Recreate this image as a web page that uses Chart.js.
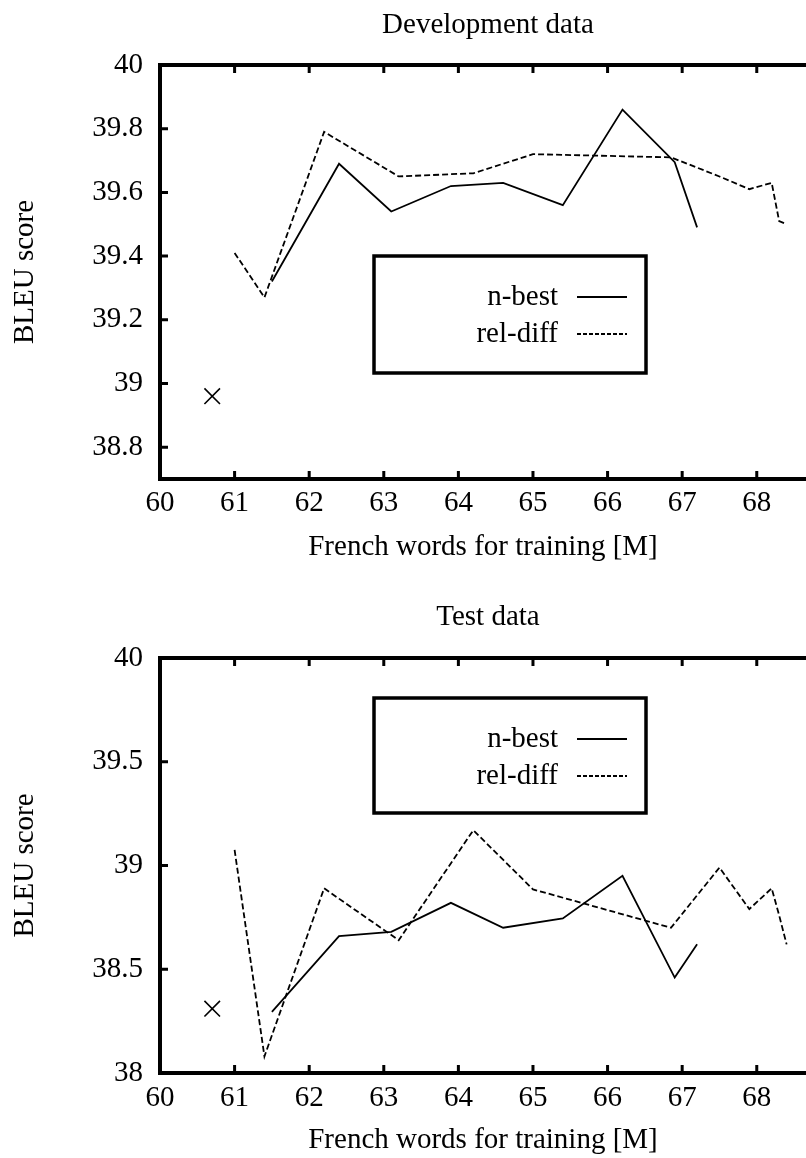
<!DOCTYPE html>
<html>
<head>
<meta charset="utf-8">
<script src="https://cdn.jsdelivr.net/npm/chart.js@4.4.0/dist/chart.umd.min.js"></script>
<style>
  html, body { margin: 0; padding: 0; background: #fff; overflow: hidden; }
  .wrap { position: relative; width: 806px; height: 1158px; overflow: hidden; }
  canvas { display: block; }
</style>
</head>
<body>
<div class="wrap">
  <canvas id="dev" width="806" height="580"></canvas>
  <canvas id="test" width="806" height="578"></canvas>
</div>
<script>
// x ticks (French words, millions)
const xTicks = [60, 61, 62, 63, 64, 65, 66, 67, 68];
const devYTicks = [38.8, 39, 39.2, 39.4, 39.6, 39.8, 40];
const testYTicks = [38, 38.5, 39, 39.5, 40];

// x positions of the systems
const nbestX = [61.5, 62.4, 63.1, 63.9, 64.6, 65.4, 66.2, 66.9, 67.2];
const relX = [61.0, 61.4, 62.2, 63.2, 64.2, 65.0, 66.85, 67.5, 67.9, 68.2, 68.3, 68.4];
const baseX = 60.7;

// Development data
const devNbest = [39.32, 39.69, 39.54, 39.62, 39.63, 39.56, 39.86, 39.695, 39.49];
const devRel = [39.41, 39.27, 39.79, 39.65, 39.66, 39.72, 39.71, 39.65, 39.61, 39.63, 39.51, 39.50];
const devBase = 38.96;

// Test data
const testNbest = [38.295, 38.66, 38.68, 38.82, 38.70, 38.745, 38.95, 38.46, 38.62];
const testRel = [39.075, 38.08, 38.89, 38.64, 39.17, 38.885, 38.70, 38.99, 38.79, 38.89, 38.76, 38.62];
const testBase = 38.31;

const seriesNames = ['n-best', 'rel-diff'];

const FONT = '"Liberation Serif", "Times New Roman", serif';
Chart.defaults.font.family = FONT;
Chart.defaults.font.size = 29;
Chart.defaults.color = '#000';

// gnuplot-like frame (right side is cut off by the page), inward ticks, title, boxed legend
const framePlugin = {
  id: 'frame',
  afterDraw(chart, args, opts) {
    const { ctx, chartArea: a, scales } = chart;
    ctx.save();
    ctx.strokeStyle = '#000';
    ctx.fillStyle = '#000';
    ctx.lineWidth = 3;
    ctx.beginPath();
    scales.x.ticks.forEach(t => {
      const px = scales.x.getPixelForValue(t.value);
      ctx.moveTo(px, a.bottom); ctx.lineTo(px, a.bottom - 8);
      ctx.moveTo(px, a.top); ctx.lineTo(px, a.top + 8);
    });
    scales.y.ticks.forEach(t => {
      const py = scales.y.getPixelForValue(t.value);
      ctx.moveTo(a.left, py); ctx.lineTo(a.left + 8, py);
    });
    ctx.stroke();
    ctx.lineWidth = 4;
    ctx.beginPath();
    ctx.moveTo(a.right + 4, a.top);
    ctx.lineTo(a.left, a.top);
    ctx.lineTo(a.left, a.bottom);
    ctx.lineTo(a.right + 4, a.bottom);
    ctx.stroke();

    // title, centred on the full (uncut) plot width
    ctx.font = '29px ' + FONT;
    ctx.textAlign = 'center';
    ctx.textBaseline = 'middle';
    ctx.fillText(opts.title, a.left + 328, opts.titleY);

    // legend box
    const bx = a.left + 214, by = a.top + opts.legendTop;
    ctx.lineWidth = 3.5;
    ctx.strokeRect(bx, by, 272, opts.legendH);
    ctx.textAlign = 'right';
    const rows = [by + 41, by + 78];
    ctx.fillText(seriesNames[0], bx + 184, rows[0]);
    ctx.fillText(seriesNames[1], bx + 184, rows[1]);
    ctx.lineWidth = 1.8;
    ctx.beginPath();
    ctx.moveTo(bx + 203, rows[0]); ctx.lineTo(bx + 253, rows[0]);
    ctx.stroke();
    ctx.setLineDash([4, 2]);
    ctx.beginPath();
    ctx.moveTo(bx + 203, rows[1]); ctx.lineTo(bx + 253, rows[1]);
    ctx.stroke();
    ctx.restore();
  }
};

function makeChart(id, cfg) {
  const ctx = document.getElementById(id).getContext('2d');
  return new Chart(ctx, {
    type: 'line',
    data: {
      datasets: [
        {
          label: seriesNames[0],
          data: nbestX.map((x, i) => ({ x, y: cfg.nbest[i] })),
          borderColor: '#000', borderWidth: 1.8, pointRadius: 0, tension: 0, fill: false
        },
        {
          label: seriesNames[1],
          data: relX.map((x, i) => ({ x, y: cfg.rel[i] })),
          borderColor: '#000', borderWidth: 1.8, borderDash: [6, 3], pointRadius: 0, tension: 0, fill: false
        },
        {
          type: 'scatter',
          label: 'baseline',
          data: [{ x: baseX, y: cfg.base }],
          pointStyle: 'crossRot', pointRadius: 11, borderColor: '#000', borderWidth: 1.6, showLine: false
        }
      ]
    },
    options: {
      responsive: false,
      animation: false,
      layout: { autoPadding: false, padding: { top: cfg.padTop, left: 0, right: 0, bottom: 0 } },
      plugins: {
        legend: { display: false },
        tooltip: { enabled: false },
        frame: { title: cfg.title, titleY: cfg.titleY, legendTop: cfg.legendTop, legendH: cfg.legendH }
      },
      scales: {
        x: {
          type: 'linear',
          min: 60,
          max: 68.66,
          grid: { display: false, drawTicks: false },
          border: { display: false },
          ticks: { padding: cfg.xTickPad, callback: v => String(v) },
          afterBuildTicks: s => { s.ticks = xTicks.map(v => ({ value: v })); },
          afterFit: s => { s.height = cfg.xHeight; s.paddingLeft = 0; s.paddingRight = 0; },
          title: { display: true, text: 'French words for training [M]', padding: { top: 0, bottom: cfg.xTitlePad } }
        },
        y: {
          min: cfg.yMin,
          max: 40,
          grid: { display: false, drawTicks: false },
          border: { display: false },
          ticks: { padding: 17, callback: v => String(+Number(v).toFixed(2)) },
          afterBuildTicks: s => { s.ticks = cfg.yTicks.map(v => ({ value: v })); },
          afterFit: s => { s.width = 160; },
          title: { display: true, text: 'BLEU score', padding: { top: 8, bottom: 0 } }
        }
      }
    },
    plugins: [framePlugin]
  });
}

makeChart('dev', {
  title: 'Development data', titleY: 25,
  nbest: devNbest, rel: devRel, base: devBase,
  yMin: 38.7, yTicks: devYTicks,
  padTop: 65, xHeight: 101, xTickPad: 7, xTitlePad: 15,
  legendTop: 191, legendH: 117
});

makeChart('test', {
  title: 'Test data', titleY: 37,
  nbest: testNbest, rel: testRel, base: testBase,
  yMin: 38, yTicks: testYTicks,
  padTop: 78, xHeight: 85, xTickPad: 8, xTitlePad: 0,
  legendTop: 40, legendH: 115
});
</script>
</body>
</html>
